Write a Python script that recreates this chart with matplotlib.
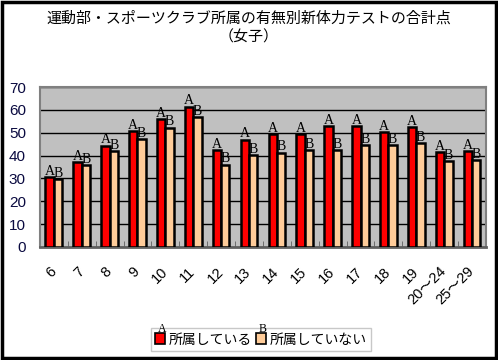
import numpy as np
import matplotlib
matplotlib.use("Agg")
import matplotlib.pyplot as plt
from matplotlib.patches import Rectangle

# Data
ages = ["6", "7", "8", "9", "10", "11", "12", "13", "14", "15", "16", "17",
        "18", "19", "20～24", "25～29"]
member = [30.7, 37.0, 44.4, 50.7, 55.9, 61.5, 42.3, 47.0, 49.5, 49.5, 53.0,
          53.0, 50.2, 52.4, 41.4, 41.9]
non_member = [29.6, 35.9, 42.0, 47.1, 52.3, 56.7, 36.0, 40.3, 41.3, 42.3, 42.3,
              44.5, 44.5, 45.5, 37.5, 38.1]
series_names = ["所属している", "所属していない"]
series_marks = ["A", "B"]
title = "運動部・スポーツクラブ所属の有無別新体力テストの合計点\n（女子）"

jp = ["Noto Sans CJK JP", "DejaVu Sans"]
sans = ["Liberation Sans", "Noto Sans CJK JP"]
serif = ["Liberation Serif", "DejaVu Serif"]


def main():
    fig = plt.figure(figsize=(4.98, 3.6), dpi=100)
    fig.patch.set_facecolor("white")
    ax = fig.add_axes([0.080, 0.314, 0.896, 0.444])
    ax.set_facecolor("#C0C0C0")

    x = np.arange(len(ages))
    w = 0.3
    colors = ["#FF0000", "#FFCC99"]
    for i, vals in enumerate([member, non_member]):
        ax.bar(x - w / 2 + i * w, vals, width=w, color=colors[i],
               edgecolor="black", linewidth=1.8, zorder=3,
               label=series_names[i])
        for xi, v in zip(x, vals):
            ax.text(xi - w / 2 + i * w, v - 0.3, series_marks[i],
                    ha="center", va="bottom", fontsize=10, family=serif,
                    zorder=4)

    ax.set_xlim(-0.5, len(ages) - 0.5)
    ax.set_ylim(0, 70)
    ax.set_yticks(range(0, 71, 10))
    ax.yaxis.grid(True, color="black", linewidth=1.0, zorder=1)
    ax.set_axisbelow(True)
    ax.tick_params(axis="y", length=0, pad=10, labelsize=11,
                   labelcolor="#0A0A40")
    for lbl in ax.get_yticklabels():
        lbl.set_family(sans)

    ax.set_xticks(x)
    ax.set_xticklabels(ages, rotation=45, ha="right", va="center",
                       rotation_mode="anchor", fontsize=10.5, family=sans)
    ax.tick_params(axis="x", length=0, pad=16)
    ax.set_xticks(np.arange(-0.5, len(ages)), minor=True)
    ax.tick_params(axis="x", which="minor", direction="in", length=4,
                   color="#606060")

    for s in ["top", "right", "left"]:
        ax.spines[s].set_color("#808080")
        ax.spines[s].set_linewidth(1.5)
    ax.spines["bottom"].set_color("#606060")
    ax.spines["bottom"].set_linewidth(2)

    fig.text(0.5, 0.923, title, ha="center", va="center", fontsize=10.8,
             family=jp, linespacing=1.45)

    leg = fig.legend(loc="center", bbox_to_anchor=(0.524, 0.057),
                     ncol=2, prop={"family": jp, "size": 10},
                     handlelength=0.7, handleheight=0.9, handletextpad=0.3,
                     columnspacing=0.3, borderpad=0.3, fancybox=False,
                     frameon=True, edgecolor="#C8C8C8", framealpha=1)
    leg.get_frame().set_linewidth(1.0)
    for h in leg.legend_handles:
        h.set_edgecolor("black")
        h.set_linewidth(1.2)

    fig.canvas.draw()
    inv = fig.transFigure.inverted()
    for h, m in zip(leg.legend_handles, series_marks):
        bb = h.get_window_extent()
        cx, top = inv.transform(((bb.x0 + bb.x1) / 2, bb.y1))
        fig.text(cx + 0.004, top - 0.006, m, ha="center", va="bottom",
                 fontsize=8.5, family=serif, zorder=10)

    fig.patches.append(Rectangle((0.004, 0.005), 0.992, 0.99,
                                 transform=fig.transFigure, fill=False,
                                 edgecolor="black", linewidth=2.5))

    fig.savefig("out.png", dpi=100)
    plt.close(fig)


if __name__ == "__main__":
    main()
